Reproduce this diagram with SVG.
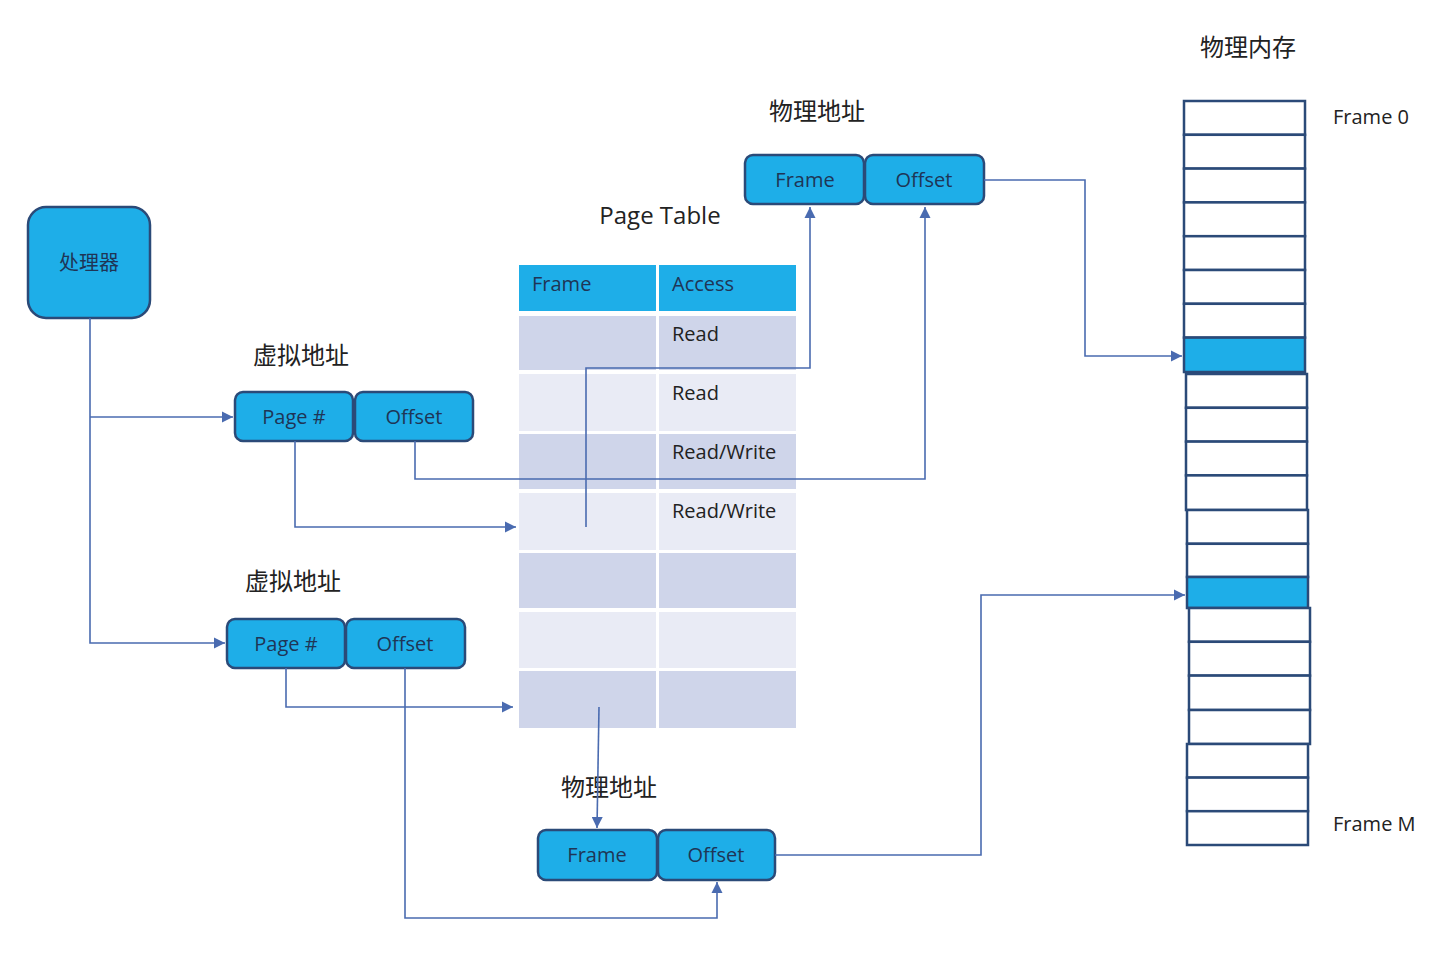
<svg xmlns="http://www.w3.org/2000/svg" width="1440" height="954" viewBox="0 0 1440 954">
<style>
.box{fill:#1eaee8;stroke:#2b4a78;stroke-width:2.5}
.bt{font-family:"Open Sans","Noto Sans CJK SC",sans-serif;font-size:20px;fill:#1f3556;text-anchor:middle}
.lbl{font-family:"Open Sans","Noto Sans CJK SC",sans-serif;font-size:24px;fill:#222;text-anchor:middle}
.tt{font-family:"Open Sans",sans-serif;font-size:20px;fill:#222}
.th{font-family:"Open Sans",sans-serif;font-size:20px;fill:#1f3556}
.hd{fill:#1eaee8}
.dk{fill:#cfd5ea}
.lt{fill:#e9ebf5}
.fr{fill:#fff;stroke:#2b4a78;stroke-width:2.5}
.frb{fill:#1eaee8;stroke:#2b4a78;stroke-width:2.5}
.cn{fill:none;stroke:#4a6bb0;stroke-width:1.6}
</style>
<defs>
<marker id="ar" viewBox="0 0 10 10" refX="10" refY="5" markerWidth="7" markerHeight="7" markerUnits="strokeWidth" orient="auto">
<path d="M0,0 L10,5 L0,10 z" fill="#4a6bb0"/>
</marker>
</defs>
<rect width="1440" height="954" fill="#fff"/>

<g id="processor">
<rect class="box" x="28" y="207" width="122" height="111" rx="18"/>
<text class="bt" x="89" y="270" style="font-family:'Noto Sans CJK SC',sans-serif">处理器</text>
</g>

<g id="vaddr1">
<text class="lbl" x="301" y="364">虚拟地址</text>
<rect class="box" x="235" y="392" width="118" height="49" rx="8"/>
<text class="bt" x="294" y="424">Page #</text>
<rect class="box" x="355" y="392" width="118" height="49" rx="8"/>
<text class="bt" x="414" y="424">Offset</text>
</g>

<g id="vaddr2">
<text class="lbl" x="293" y="590">虚拟地址</text>
<rect class="box" x="227" y="619" width="118" height="49" rx="8"/>
<text class="bt" x="286" y="651">Page #</text>
<rect class="box" x="346" y="619" width="119" height="49" rx="8"/>
<text class="bt" x="405" y="651">Offset</text>
</g>

<g id="pagetable">
<text class="lbl" x="660" y="224">Page Table</text>
<rect class="hd" x="519" y="265" width="137" height="46"/>
<rect class="hd" x="659" y="265" width="137" height="46"/>
<text class="th" x="532" y="291">Frame</text>
<text class="th" x="672" y="291">Access</text>
<rect class="dk" x="519" y="316" width="137" height="54"/>
<rect class="dk" x="659" y="316" width="137" height="54"/>
<rect class="lt" x="519" y="374" width="137" height="57"/>
<rect class="lt" x="659" y="374" width="137" height="57"/>
<rect class="dk" x="519" y="434" width="137" height="55"/>
<rect class="dk" x="659" y="434" width="137" height="55"/>
<rect class="lt" x="519" y="493" width="137" height="57"/>
<rect class="lt" x="659" y="493" width="137" height="57"/>
<rect class="dk" x="519" y="553" width="137" height="55"/>
<rect class="dk" x="659" y="553" width="137" height="55"/>
<rect class="lt" x="519" y="612" width="137" height="56"/>
<rect class="lt" x="659" y="612" width="137" height="56"/>
<rect class="dk" x="519" y="671" width="137" height="57"/>
<rect class="dk" x="659" y="671" width="137" height="57"/>
<text class="tt" x="672" y="341">Read</text>
<text class="tt" x="672" y="400">Read</text>
<text class="tt" x="672" y="459">Read/Write</text>
<text class="tt" x="672" y="518">Read/Write</text>
</g>

<g id="paddr1">
<text class="lbl" x="817" y="120">物理地址</text>
<rect class="box" x="745" y="155" width="119" height="49" rx="8"/>
<text class="bt" x="805" y="187">Frame</text>
<rect class="box" x="865" y="155" width="119" height="49" rx="8"/>
<text class="bt" x="924" y="187">Offset</text>
</g>

<g id="paddr2">
<text class="lbl" x="609" y="796">物理地址</text>
<rect class="box" x="538" y="830" width="119" height="50" rx="8"/>
<text class="bt" x="597" y="862">Frame</text>
<rect class="box" x="658" y="830" width="117" height="50" rx="8"/>
<text class="bt" x="716" y="862">Offset</text>
</g>

<g id="memory">
<text class="lbl" x="1248" y="56">物理内存</text>
<rect class="fr" x="1184" y="101" width="121" height="33.8"/>
<rect class="fr" x="1184" y="134.8" width="121" height="33.8"/>
<rect class="fr" x="1184" y="168.6" width="121" height="33.8"/>
<rect class="fr" x="1184" y="202.4" width="121" height="33.8"/>
<rect class="fr" x="1184" y="236.2" width="121" height="33.8"/>
<rect class="fr" x="1184" y="270" width="121" height="33.8"/>
<rect class="fr" x="1184" y="303.8" width="121" height="33.8"/>
<rect class="frb" x="1184" y="337.6" width="121" height="34.4"/>
<rect class="fr" x="1186" y="374" width="121" height="33.8"/>
<rect class="fr" x="1186" y="407.8" width="121" height="33.8"/>
<rect class="fr" x="1186" y="441.6" width="121" height="33.8"/>
<rect class="fr" x="1186" y="475.4" width="121" height="34.6"/>
<rect class="fr" x="1187" y="510" width="121" height="33.8"/>
<rect class="fr" x="1187" y="543.8" width="121" height="33.2"/>
<rect class="frb" x="1187" y="577" width="121" height="31"/>
<rect class="fr" x="1189" y="608" width="121" height="33.8"/>
<rect class="fr" x="1189" y="641.8" width="121" height="33.8"/>
<rect class="fr" x="1189" y="675.6" width="121" height="34.4"/>
<rect class="fr" x="1189" y="710" width="121" height="34"/>
<rect class="fr" x="1187" y="744" width="121" height="33.6"/>
<rect class="fr" x="1187" y="777.6" width="121" height="33.6"/>
<rect class="fr" x="1187" y="811.2" width="121" height="33.8"/>
<text class="tt" x="1333" y="124">Frame 0</text>
<text class="tt" x="1333" y="831">Frame M</text>
</g>

<g id="connectors">
<path class="cn" d="M90,318 V643 H225" marker-end="url(#ar)"/>
<path class="cn" d="M90,417 H233" marker-end="url(#ar)"/>
<path class="cn" d="M295,441 V527 H516" marker-end="url(#ar)"/>
<path class="cn" d="M415,441 V479 H925 V207" marker-end="url(#ar)"/>
<path class="cn" d="M586,527 V368 H810 V207" marker-end="url(#ar)"/>
<path class="cn" d="M984,180 H1085 V356 H1182" marker-end="url(#ar)"/>
<path class="cn" d="M286,668 V707 H513" marker-end="url(#ar)"/>
<path class="cn" d="M599,707 L597,828" marker-end="url(#ar)"/>
<path class="cn" d="M405,668 V918 H717 V882" marker-end="url(#ar)"/>
<path class="cn" d="M775,855 H981 V595 H1185" marker-end="url(#ar)"/>
</g>
</svg>
